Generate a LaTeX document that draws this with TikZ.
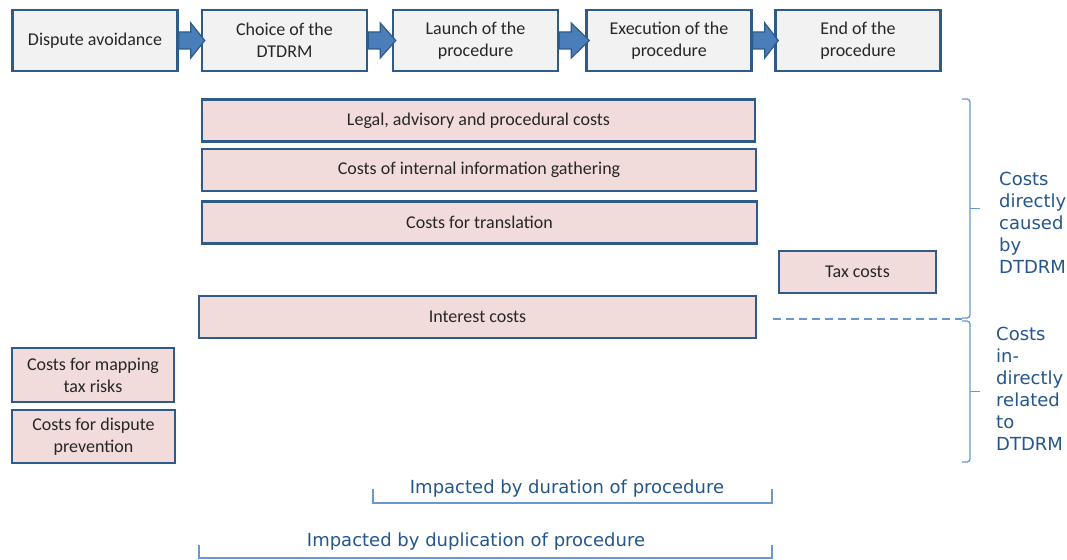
\documentclass[tikz,border=0pt]{standalone}
\usepackage{fontspec}
\setmainfont{Carlito}
\newfontfamily\labelfont{DejaVu Sans}
\usetikzlibrary{calc}

\definecolor{boxline}{HTML}{2F5B8A}
\definecolor{stagefill}{HTML}{F2F2F2}
\definecolor{costfill}{HTML}{F2DCDB}
\definecolor{arrowfill}{HTML}{4A7EBB}
\definecolor{arrowline}{HTML}{2F5B8A}
\definecolor{bracketblue}{HTML}{6A96D2}
\definecolor{labelblue}{HTML}{24568C}

\tikzset{
  stage/.style={draw=boxline, fill=stagefill, line width=2.5pt, inner sep=0pt,
    minimum width=165pt, minimum height=61pt, align=center, text=black!85,
    font=\fontsize{18}{22}\selectfont},
  cost/.style={stage, fill=costfill, minimum height=42pt},
  flow/.style={fill=arrowfill, draw=arrowline, line width=1.2pt, line join=miter},
  bracket/.style={draw=bracketblue, line width=1.3pt},
  sidetext/.style={font=\labelfont\fontsize{18}{22}\selectfont, text=labelblue,
    align=left, inner sep=0pt}
}

\begin{document}
\begin{tikzpicture}[x=1pt,y=-1pt]
  \useasboundingbox (0,0) rectangle (1067,559);

  % stages of the procedure
  \node[stage] (S1) at (95,40.5)    {Dispute avoidance};
  \node[stage] (S2) at (284.5,40.5) {Choice of the\\DTDRM};
  \node[stage] (S3) at (475.5,40.5) {Launch of the\\procedure};
  \node[stage] (S4) at (669,40.5)   {Execution of the\\procedure};
  \node[stage] (S5) at (858,40.5)   {End of the\\procedure};

  \foreach \a/\b in {S1/S2,S2/S3,S3/S4,S4/S5}
    \draw[flow] ($(\a.east)+(0,-8.5)$) -- ++(12,0) -- ++(0,-9)
      -- ($(\b.west)+(4,0)$) -- ($(\a.east)+(12,17.5)$) -- ++(0,-9) -- ++(-12,0) -- cycle;

  % cost boxes
  \node[cost, minimum width=553pt] (legal)    at (478.5,120.5) {Legal, advisory and procedural costs};
  \node[cost, minimum width=554pt] (info)     at (479,170)     {Costs of internal information gathering};
  \node[cost, minimum width=555pt] (transl)   at (479.5,222.5) {Costs for translation};
  \node[cost, minimum width=157pt] (tax)      at (857.5,272)   {Tax costs};
  \node[cost, minimum width=557pt] (interest) at (477.5,317)   {Interest costs};
  \node[cost, minimum width=162pt, minimum height=54pt] (mapping)    at (93,375)     {Costs for mapping\\tax risks};
  \node[cost, minimum width=163pt, minimum height=53pt] (prevention) at (93.5,436.5) {Costs for dispute\\prevention};

  % braces on the right
  \coordinate (D1) at (962,99);
  \coordinate (D2) at (962,318);
  \coordinate (I1) at (962,321);
  \coordinate (I2) at (962,462);
  \coordinate (sep) at (773,319);
  \draw[bracket, rounded corners=3pt] (D1) -- ++(8,0) |- (D2);
  \draw[bracket] ($(D1)!0.5!(D2)+(8,0)$) -- ++(10,0);
  \draw[bracket, rounded corners=3pt] (I1) -- ++(8,0) |- (I2);
  \draw[bracket] ($(I1)!0.5!(I2)+(8,0)$) -- ++(10,0);
  \draw[bracket, dash pattern=on 8pt off 5pt] (sep) -- (D2 |- sep);

  \node[sidetext, anchor=west] (direct)   at (999,223) {Costs\\directly\\caused\\by\\DTDRM};
  \node[sidetext, anchor=west] (indirect) at (996,389) {Costs\\in-\\directly\\related\\to\\DTDRM};

  % brackets at the bottom
  \coordinate (R1) at (373,489);
  \coordinate (R2) at (772,489);
  \coordinate (P1) at (199,545);
  \coordinate (P2) at (772,545);
  \draw[bracket] (R1) -- ++(0,14) -| (R2);
  \draw[bracket] (P1) -- ++(0,13) -| (P2);
  \node[sidetext] (duration)    at (567,489) {Impacted by duration of procedure};
  \node[sidetext] (duplication) at (476,542) {Impacted by duplication of procedure};
\end{tikzpicture}
\end{document}
